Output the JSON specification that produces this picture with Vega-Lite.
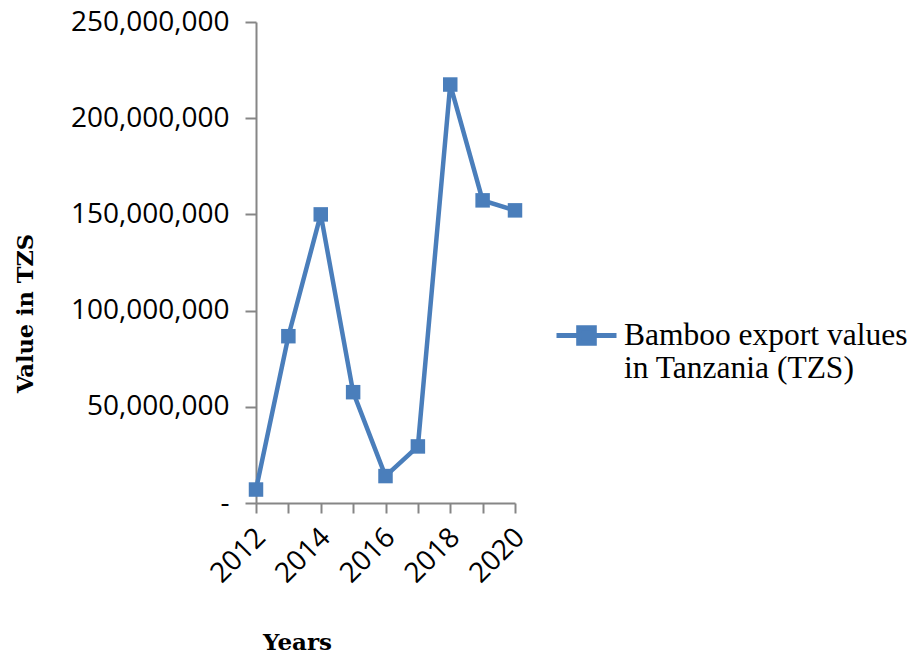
{
  "$schema": "https://vega.github.io/schema/vega-lite/v6.json",
  "autosize": "none",
  "padding": {"left": 256, "top": 22, "right": 396, "bottom": 154},
  "width": 259,
  "height": 481,
  "background": "white",
  "config": {"view": {"stroke": null}},
  "data": {
    "values": [
      {"year": 2012, "value": 7000000, "series": "Bamboo export values in Tanzania (TZS)"},
      {"year": 2013, "value": 86700000, "series": "Bamboo export values in Tanzania (TZS)"},
      {"year": 2014, "value": 150000000, "series": "Bamboo export values in Tanzania (TZS)"},
      {"year": 2015, "value": 57600000, "series": "Bamboo export values in Tanzania (TZS)"},
      {"year": 2016, "value": 14000000, "series": "Bamboo export values in Tanzania (TZS)"},
      {"year": 2017, "value": 29400000, "series": "Bamboo export values in Tanzania (TZS)"},
      {"year": 2018, "value": 217500000, "series": "Bamboo export values in Tanzania (TZS)"},
      {"year": 2019, "value": 157300000, "series": "Bamboo export values in Tanzania (TZS)"},
      {"year": 2020, "value": 152100000, "series": "Bamboo export values in Tanzania (TZS)"}
    ]
  },
  "encoding": {
    "x": {
      "field": "year",
      "type": "quantitative",
      "scale": {"domain": [2012, 2020], "nice": false, "zero": false},
      "axis": {
        "title": "Years",
        "values": [2012, 2013, 2014, 2015, 2016, 2017, 2018, 2019, 2020],
        "format": "d",
        "labelExpr": "datum.value % 2 == 0 ? datum.label : ''",
        "labelAngle": -45,
        "labelFont": "Open Sans",
        "labelFontSize": 28,
        "labelColor": "black",
        "labelPadding": 10,
        "labelOffset": -5,
        "labelOverlap": false,
        "labelFlush": false,
        "grid": false,
        "domainColor": "#868686",
        "domainWidth": 2,
        "tickColor": "#868686",
        "tickWidth": 2,
        "tickSize": 10,
        "titleFont": "DejaVu Serif",
        "titleFontWeight": "bold",
        "titleFontSize": 23,
        "titleColor": "black",
        "titleX": 41,
        "titleY": 146,
        "titleAlign": "center",
        "titleBaseline": "alphabetic"
      }
    },
    "y": {
      "field": "value",
      "type": "quantitative",
      "scale": {"domain": [0, 250000000], "nice": false},
      "axis": {
        "title": "Value in TZS",
        "values": [0, 50000000, 100000000, 150000000, 200000000, 250000000],
        "labelExpr": "datum.value == 0 ? '-' : format(datum.value, ',')",
        "labelFont": "Open Sans",
        "labelFontSize": 28,
        "labelColor": "black",
        "labelPadding": 16,
        "grid": false,
        "domainColor": "#868686",
        "domainWidth": 2,
        "tickColor": "#868686",
        "tickWidth": 2,
        "tickSize": 11,
        "titleFont": "DejaVu Serif",
        "titleFontWeight": "bold",
        "titleFontSize": 22.5,
        "titleColor": "black",
        "titleX": -231,
        "titleY": 291,
        "titleAngle": -90,
        "titleAlign": "center",
        "titleBaseline": "middle"
      }
    },
    "color": {
      "field": "series",
      "type": "nominal",
      "scale": {"range": ["#4a7ebb"]},
      "legend": {
        "title": null,
        "orient": "none",
        "legendX": 298,
        "legendY": 281,
        "symbolType": "M-1,0H1M-0.26,-0.26H0.26V0.26H-0.26Z",
        "symbolSize": 3600,
        "symbolStrokeWidth": 5,
        "symbolFillColor": "#4a7ebb",
        "symbolStrokeColor": "#4a7ebb",
        "labelFont": "Liberation Serif",
        "labelFontSize": 31.5,
        "labelColor": "black",
        "labelLimit": 500,
        "labelOffset": 5,
        "labelExpr": "['Bamboo export values', 'in Tanzania (TZS)']",
        "labelBaseline": "middle"
      }
    }
  },
  "layer": [
    {"mark": {"type": "line", "strokeWidth": 4.5}},
    {"mark": {"type": "square", "size": 210, "filled": true, "opacity": 1}}
  ]
}
